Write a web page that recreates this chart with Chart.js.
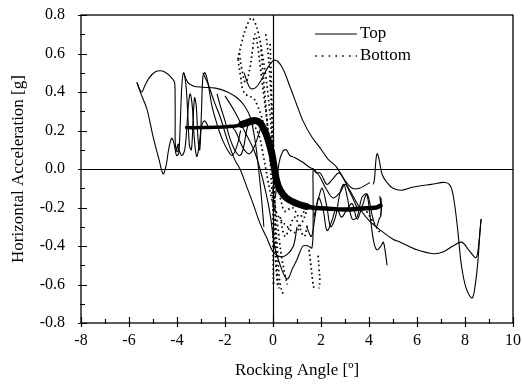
<!DOCTYPE html>
<html><head><meta charset="utf-8">
<script src="https://cdn.jsdelivr.net/npm/chart.js@4/dist/chart.umd.min.js"></script>
<style>html,body{margin:0;padding:0;background:#fff;}canvas{display:block;}</style>
</head><body>
<canvas id="c" width="522" height="384" style="width:522px;height:384px"></canvas>
<script>
// ---- axis ticks ----
const xTickValues = [-8,-6,-4,-2,0,2,4,6,8,10];
const yTickValues = [-0.8,-0.6,-0.4,-0.2,0.0,0.2,0.4,0.6,0.8];
const seriesNames = ['Top','Bottom'];

// ---- "Top" (solid) traces: [rocking angle deg, acceleration g] ----
const topArchLeft = [[-5.67,0.45],[-5.56,0.415],[-5.46,0.40],[-5.35,0.43],[-5.15,0.475],[-4.9,0.505],[-4.65,0.51],[-4.4,0.495],[-4.2,0.47],[-4.1,0.45],[-4.08,0.38],[-4.075,0.25],[-4.07,0.13],[-4.0,0.09],[-3.92,0.11],[-3.95,0.13],[-4.02,0.1]];
const topOscLeft = [[-5.67,0.45],[-5.5,0.39],[-5.25,0.31],[-5.0,0.17],[-4.75,0.05],[-4.58,-0.025],[-4.45,0.02],[-4.35,0.1],[-4.22,0.16],[-4.12,0.13],[-4.02,0.07],[-3.93,0.08],[-3.86,0.25],[-3.8,0.43],[-3.73,0.5],[-3.63,0.44],[-3.55,0.28],[-3.48,0.12],[-3.4,0.1],[-3.33,0.25],[-3.27,0.37],[-3.2,0.33],[-3.12,0.15],[-3.05,0.1],[-2.98,0.3],[-2.92,0.48],[-2.83,0.5],[-2.7,0.44],[-2.55,0.33],[-2.4,0.26],[-2.25,0.2],[-2.1,0.15],[-1.9,0.1],[-1.7,0.07],[-1.5,0.12],[-1.35,0.2]];
const topOscLeft2 = [[-4.0,0.12],[-3.92,0.1],[-3.8,0.07],[-3.68,0.1],[-3.6,0.2],[-3.52,0.34],[-3.45,0.39],[-3.36,0.32],[-3.28,0.16],[-3.18,0.065],[-3.08,0.12],[-2.98,0.22],[-2.85,0.25],[-2.7,0.22]];
const topLongUpper = [[-3.72,0.5],[-3.55,0.45],[-3.3,0.43],[-2.9,0.425],[-2.4,0.42],[-1.9,0.40],[-1.5,0.37],[-1.2,0.33],[-0.95,0.27],[-0.75,0.15],[-0.6,0.0],[-0.48,-0.15],[-0.38,-0.3]];
const topDescLeft = [[-2.92,0.50],[-2.7,0.44],[-2.45,0.35],[-2.2,0.27],[-1.9,0.15],[-1.6,0.05],[-1.375,0.0],[-1.1,-0.09],[-0.83,-0.18],[-0.55,-0.28],[-0.25,-0.36],[0.0,-0.43],[0.3,-0.455],[0.58,-0.445],[0.85,-0.4],[1.0,-0.3]];
const topUpeak = [[-2.33,0.39],[-2.2,0.33],[-2.0,0.25],[-1.8,0.16],[-1.6,0.1],[-1.4,0.07],[-1.25,0.1],[-1.1,0.2],[-0.95,0.26]];
const topUloop = [[-1.8,0.23],[-1.58,0.2],[-1.4,0.15],[-1.25,0.11],[-1.1,0.085],[-0.96,0.08],[-0.8,0.11],[-0.62,0.17],[-0.5,0.22]];
const topVloop = [[-2.0,0.38],[-1.6,0.3],[-1.2,0.2],[-0.8,0.1],[-0.54,0.0],[-0.3,-0.12],[-0.1,-0.25],[0.0,-0.35],[0.1,-0.42],[0.3,-0.5],[0.5,-0.56],[0.63,-0.57],[0.8,-0.52],[1.0,-0.47],[1.25,-0.40],[1.46,-0.40],[1.62,-0.41],[1.67,-0.3],[1.67,-0.1],[1.68,0.0],[1.8,-0.02],[1.96,-0.02],[2.1,-0.05],[2.25,-0.08],[2.5,-0.05],[2.75,-0.02],[3.0,-0.06],[3.3,-0.1],[3.6,-0.1],[4.04,-0.07]];
const topBump = [[0.1,-0.15],[0.25,0.03],[0.4,0.09],[0.55,0.10],[0.7,0.07],[0.9,0.06],[1.1,0.045],[1.3,0.03],[1.5,0.01],[1.67,0.0],[1.9,-0.03],[2.2,-0.1],[2.5,-0.15],[2.8,-0.12],[3.0,-0.08],[3.2,-0.12],[3.5,-0.2]];
const topArchMain = [[-1.2,0.5],[-1.1,0.46],[-0.95,0.42],[-0.75,0.42],[-0.5,0.46],[-0.25,0.52],[0.05,0.565],[0.35,0.535],[0.7,0.43],[1.0,0.33],[1.25,0.25],[1.6,0.17],[1.96,0.11],[2.3,0.05],[2.65,0.01],[3.2,-0.11],[3.75,-0.23],[4.1,-0.28],[4.5,-0.32],[5.0,-0.365],[5.3,-0.38],[6.0,-0.42],[6.7,-0.44],[7.1,-0.43],[7.5,-0.4],[7.86,-0.38],[8.15,-0.42],[8.46,-0.46],[8.58,-0.38],[8.67,-0.26]];
const topHookRight = [[4.18,-0.08],[4.22,-0.06],[4.25,-0.02],[4.3,0.06],[4.35,0.08],[4.42,0.05],[4.55,-0.03],[4.75,-0.07],[5.0,-0.1],[5.37,-0.11],[5.8,-0.095],[6.1,-0.088],[6.6,-0.08],[7.17,-0.07],[7.4,-0.09],[7.55,-0.17],[7.7,-0.32],[7.85,-0.5],[8.05,-0.62],[8.3,-0.67],[8.45,-0.58],[8.55,-0.46],[8.62,-0.33],[8.67,-0.26]];
const topWaveR1 = [[1.7,-0.25],[1.9,-0.15],[2.05,-0.1],[2.25,-0.2],[2.4,-0.3],[2.6,-0.25],[2.8,-0.12],[2.95,-0.08],[3.1,-0.15],[3.3,-0.26],[3.5,-0.25],[3.7,-0.15],[3.9,-0.13],[4.05,-0.25],[4.2,-0.38],[4.33,-0.42],[4.5,-0.4],[4.6,-0.38],[4.7,-0.45],[4.75,-0.5]];
const topWaveR2 = [[1.4,-0.3],[1.6,-0.35],[1.75,-0.25],[1.9,-0.15],[2.1,-0.22],[2.25,-0.32],[2.45,-0.27],[2.65,-0.2],[2.85,-0.25],[3.08,-0.21],[3.3,-0.18],[3.5,-0.26],[3.7,-0.2],[3.92,-0.13],[4.15,-0.25],[4.3,-0.3],[4.45,-0.25]];
const topBandLeft = [[-3.6,0.215],[-3.0,0.215],[-2.4,0.217],[-1.9,0.22],[-1.5,0.225],[-1.2,0.235]];
const topBandCore = [[-1.3,0.232],[-1.1,0.24],[-0.8,0.252],[-0.55,0.24],[-0.35,0.2],[-0.2,0.15],[-0.05,0.08],[0.05,0.01],[0.15,-0.06],[0.3,-0.11],[0.55,-0.15],[1.0,-0.18],[1.4,-0.195]];
const topBandRight = [[1.0,-0.18],[1.6,-0.2],[2.2,-0.205],[3.0,-0.21],[3.7,-0.205],[4.3,-0.2],[4.48,-0.19]];
const topBandEnd = [[4.45,-0.14],[4.5,-0.2],[4.48,-0.25],[4.52,-0.2],[4.5,-0.15]];

// ---- "Bottom" (dotted) traces ----
const botOuter = [[-1.46,0.57],[-1.3,0.66],[-1.1,0.74],[-0.9,0.785],[-0.75,0.76],[-0.6,0.7],[-0.45,0.6],[-0.3,0.48],[-0.15,0.32],[-0.05,0.15],[0.02,-0.05],[0.1,-0.25],[0.2,-0.45],[0.3,-0.6],[0.45,-0.66]];
const botInner = [[-1.46,0.57],[-1.35,0.48],[-1.25,0.41],[-1.05,0.38],[-0.83,0.37],[-0.65,0.33],[-0.5,0.28],[-0.35,0.22]];
const botColumnA = [[-0.3,0.7],[-0.22,0.62],[-0.15,0.52],[-0.1,0.42],[-0.06,0.3],[-0.03,0.15],[0.0,0.0],[0.0,-0.2],[0.0,-0.4],[0.02,-0.6]];
const botColumnB = [[-0.12,0.65],[-0.08,0.5],[-0.05,0.35],[0.0,0.2],[0.05,0.0],[0.08,-0.2],[0.12,-0.4],[0.18,-0.55],[0.25,-0.62]];
const botCloudA = [[-1.4,0.6],[-1.3,0.52],[-1.15,0.45],[-1.0,0.5],[-0.85,0.62],[-0.75,0.7],[-0.65,0.65],[-0.55,0.55],[-0.45,0.45],[-0.35,0.35],[-0.25,0.25],[-0.15,0.1]];
const botCloudB = [[-0.5,0.62],[-0.42,0.5],[-0.35,0.4],[-0.28,0.3],[-0.2,0.18],[-0.12,0.05],[-0.05,-0.1],[0.05,-0.3],[0.12,-0.5],[0.2,-0.62]];
const botCloudC = [[0.0,-0.1],[0.2,-0.3],[0.35,-0.45],[0.5,-0.55],[0.6,-0.6]];
const botCloudD = [[0.3,-0.25],[0.5,-0.35],[0.7,-0.3],[0.9,-0.25],[1.1,-0.3],[1.3,-0.35],[1.45,-0.28]];
const botS = [[-1.6,0.22],[-1.2,0.24],[-0.85,0.23],[-0.6,0.18],[-0.45,0.1],[-0.3,0.0],[-0.15,-0.1],[0.05,-0.2],[0.3,-0.26],[0.6,-0.3],[0.9,-0.33],[1.2,-0.28],[1.4,-0.22]];
const botRightA = [[0.3,-0.15],[0.5,-0.22],[0.8,-0.2],[1.1,-0.25],[1.3,-0.22]];
const botRightB = [[1.5,-0.42],[1.58,-0.5],[1.65,-0.58],[1.72,-0.63]];
const botRightC = [[1.88,-0.45],[1.92,-0.52],[1.95,-0.58],[1.92,-0.62]];
const botRightD = [[3.9,-0.22],[4.1,-0.26],[4.3,-0.3],[4.45,-0.33]];

const thinTopTraces = [topArchLeft, topOscLeft, topOscLeft2, topLongUpper, topDescLeft, topUpeak, topUloop, topVloop, topBump, topArchMain, topHookRight, topWaveR1, topWaveR2, topBandEnd];
const bandTraces = [[topBandLeft, 3.5], [topBandRight, 4.5], [topBandCore, 7]];
const bottomTraces = [botOuter, botInner, botColumnA, botColumnB, botCloudA, botCloudB, botCloudC, botCloudD, botS, botRightA, botRightB, botRightC, botRightD];

const toPts = arr => arr.map(([x,y]) => ({x, y}));
const datasets = [];
thinTopTraces.forEach(t => datasets.push({label: seriesNames[0], data: toPts(t), borderColor:'#000', borderWidth:1.1, pointRadius:0, fill:false, tension:0.35}));
bandTraces.forEach(([t, w]) => datasets.push({label: seriesNames[0], data: toPts(t), borderColor:'#000', borderWidth:w, pointRadius:0, fill:false, tension:0.4, borderCapStyle:'round'}));
bottomTraces.forEach(t => datasets.push({label: seriesNames[1], data: toPts(t), borderColor:'#000', borderWidth:1.7, borderDash:[1.6,3], pointRadius:0, fill:false, tension:0.4}));

const FONT = 'Liberation Serif, Times New Roman, serif';

const framePlugin = {
  id: 'frame',
  afterDatasetsDraw(chart) {
    const {ctx, chartArea: a, scales: {x, y}} = chart;
    ctx.save();
    ctx.strokeStyle = '#000';
    ctx.lineWidth = 1.2;
    ctx.beginPath();
    const x0 = Math.round(x.getPixelForValue(0)) + 0.5;
    const y0 = Math.round(y.getPixelForValue(0)) + 0.5;
    ctx.moveTo(x0, a.top); ctx.lineTo(x0, a.bottom);
    ctx.moveTo(a.left, y0); ctx.lineTo(a.right, y0);
    ctx.stroke();
    ctx.lineWidth = 1.3;
    ctx.strokeRect(a.left, a.top, a.right - a.left, a.bottom - a.top);
    ctx.lineWidth = 1.2;
    ctx.beginPath();
    for (let v = -8; v <= 10; v += 1) {
      const px = Math.round(x.getPixelForValue(v)) + 0.5;
      const major = (v % 2 === 0);
      ctx.moveTo(px, a.bottom + (major ? 4 : 1));
      ctx.lineTo(px, a.bottom - (major ? 6 : 4));
    }
    for (let k = -8; k <= 8; k++) {
      const py = Math.round(y.getPixelForValue(k / 10)) + 0.5;
      const major = (k % 2 === 0);
      ctx.moveTo(a.left - (major ? 3 : 1), py);
      ctx.lineTo(a.left + (major ? 6 : 4), py);
    }
    ctx.stroke();
    // legend
    const lx = a.left + 234, ly1 = a.top + 19, ly2 = a.top + 41;
    ctx.lineWidth = 1.2;
    ctx.beginPath(); ctx.moveTo(lx, ly1); ctx.lineTo(lx + 42, ly1); ctx.stroke();
    ctx.lineWidth = 1.7; ctx.setLineDash([1.6, 5.2]);
    ctx.beginPath(); ctx.moveTo(lx, ly2); ctx.lineTo(lx + 42, ly2); ctx.stroke();
    ctx.setLineDash([]);
    ctx.fillStyle = '#000';
    ctx.font = '17px ' + FONT;
    ctx.textBaseline = 'middle';
    ctx.textAlign = 'left';
    ctx.fillText(seriesNames[0], lx + 45, ly1);
    ctx.fillText(seriesNames[1], lx + 45, ly2);
    ctx.restore();
  }
};

new Chart(document.getElementById('c').getContext('2d'), {
  type: 'line',
  data: { datasets },
  options: {
    responsive: false,
    animation: false,
    layout: { padding: { top: 15, right: 9, left: 0, bottom: 0 } },
    plugins: { legend: { display: false }, tooltip: { enabled: false } },
    scales: {
      x: {
        type: 'linear', min: -8, max: 10,
        afterBuildTicks(s) { s.ticks = xTickValues.map(v => ({value: v})); },
        ticks: { font: { family: FONT, size: 16 }, color: '#000', padding: 8, maxRotation: 0, autoSkip: false, callback: v => String(v) },
        grid: { display: false, drawTicks: false },
        border: { display: false },
        title: { display: true, text: 'Rocking Angle [º]', color: '#000', font: { family: FONT, size: 17 }, padding: { top: 0, bottom: 3 } },
        afterFit(s) { s.height = 61; s.paddingLeft = 0; s.paddingRight = 0; }
      },
      y: {
        type: 'linear', min: -0.8, max: 0.8,
        afterBuildTicks(s) { s.ticks = yTickValues.map(v => ({value: v})); },
        ticks: { font: { family: FONT, size: 16 }, color: '#000', padding: 16, autoSkip: false, callback: v => (Math.abs(v) < 1e-9 ? 0 : v).toFixed(1) },
        grid: { display: false, drawTicks: false },
        border: { display: false },
        title: { display: true, text: 'Horizontal Acceleration [g]', color: '#000', font: { family: FONT, size: 17 }, padding: { top: 8, bottom: 0 } },
        afterFit(s) { s.width = 81; s.paddingTop = 0; s.paddingBottom = 0; }
      }
    }
  },
  plugins: [framePlugin]
});
</script>
</body></html>
